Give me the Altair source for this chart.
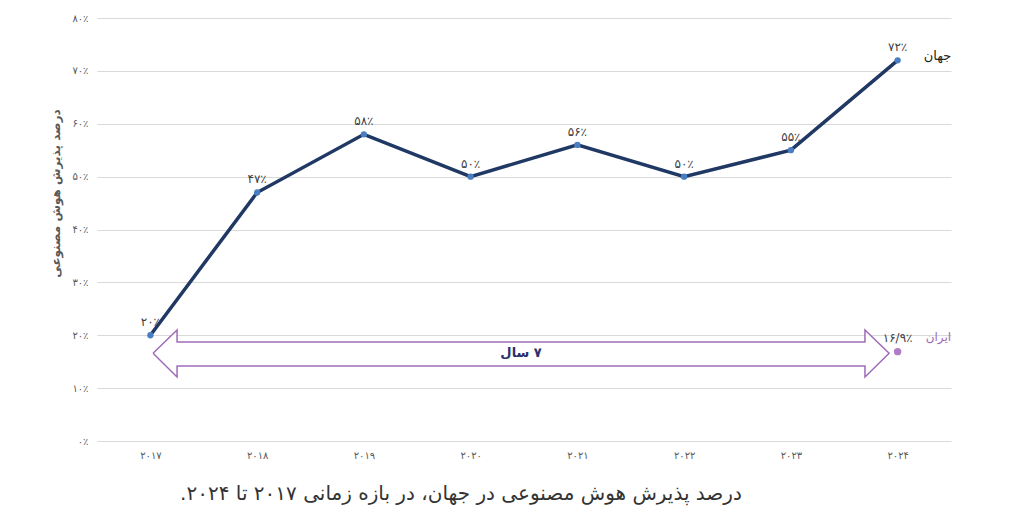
import altair as alt
import pandas as pd

FA = str.maketrans("0123456789", "۰۱۲۳۴۵۶۷۸۹")

def fa(s):
    return str(s).translate(FA)

def rtl(s):
    # force right-to-left embedding so numbers / full stop sit correctly
    return "\u202b" + s + "\u202c"

years = [2017, 2018, 2019, 2020, 2021, 2022, 2023, 2024]
world = [20, 47, 58, 50, 56, 50, 55, 72]
iran_year = 2024
iran_value = 16.9
y_ticks = [0, 10, 20, 30, 40, 50, 60, 70, 80]

FONT = "DejaVu Sans"
GREY = "#595959"
PURPLE = "#9E6CB8"

world_df = pd.DataFrame({
    "year": years,
    "value": world,
    "label": [fa(v) + "٪" for v in world],
})
iran_df = pd.DataFrame({
    "year": [iran_year],
    "value": [iran_value],
    "label": [fa("16/9") + "٪"],
    "name": ["ایران"],
})


def label_expr(vals, suffix=""):
    expr = "''"
    for v in reversed(vals):
        expr = f"datum.value == {v} ? '{fa(v)}{suffix}' : ({expr})"
    return expr


x_scale = alt.Scale(domain=[2016.5, 2024.5], nice=False, zero=False)
y_scale = alt.Scale(domain=[0, 80], nice=False)

x_enc = alt.X("year:Q", scale=x_scale, axis=alt.Axis(
    values=years, labelExpr=label_expr(years), grid=False, ticks=False,
    domain=False, title=None, labelFontSize=10, labelColor=GREY,
    labelPadding=9, labelFont=FONT))
y_enc = alt.Y("value:Q", scale=y_scale, axis=alt.Axis(
    values=y_ticks, labelExpr=label_expr(y_ticks, "٪"), grid=True,
    gridColor="#d9d9d9", ticks=False, domain=False,
    title="درصد پذیرش هوش مصنوعی", titleFontSize=12, titleColor=GREY,
    titleFont=FONT, titleFontWeight="bold", titleAngle=-90,
    titleX=-42, titleY=175, titleAlign="center", titleBaseline="middle",
    labelFontSize=10, labelColor=GREY, labelPadding=9, labelFont=FONT))

# span arrow 2017 -> 2024 ("7 years")
tip_l, base_l, base_r, tip_r = 2017.025, 2017.25, 2023.694, 2023.92
mid, body_t, body_b, head_t, head_b = 16.6, 18.7, 14.2, 21.0, 12.1

arrow_fill = pd.DataFrame({
    "year": [tip_l, base_l, base_l + 0.0001, base_r - 0.0001, base_r, tip_r],
    "value": [mid, head_t, body_t, body_t, head_t, mid],
    "value2": [mid, head_b, body_b, body_b, head_b, mid],
})
arrow_line = pd.DataFrame({
    "year": [tip_l, base_l, base_l, base_r, base_r, tip_r, base_r, base_r,
             base_l, base_l, tip_l],
    "value": [mid, head_t, body_t, body_t, head_t, mid, head_b, body_b,
              body_b, head_b, mid],
})
arrow_line["i"] = range(len(arrow_line))
span_df = pd.DataFrame({"year": [(tip_l + tip_r) / 2], "value": [mid],
                        "label": [rtl(fa(7) + " سال")]})

fill = alt.Chart(arrow_fill).mark_area(color="white", opacity=1).encode(
    x=x_enc, y=y_enc, y2="value2:Q")
outline = alt.Chart(arrow_line).mark_line(color=PURPLE, strokeWidth=1.5).encode(
    x=x_enc, y=y_enc, order="i:Q")
span_text = alt.Chart(span_df).mark_text(
    font=FONT, fontSize=13, fontWeight="bold", color="#2B2F6B").encode(
    x=x_enc, y=y_enc, text="label:N")

line = alt.Chart(world_df).mark_line(color="#203864", strokeWidth=3.5).encode(
    x=x_enc, y=y_enc)
pts = alt.Chart(world_df).mark_circle(color="#4A7EC2", size=40, opacity=1).encode(
    x=x_enc, y=y_enc)
lbls = alt.Chart(world_df).mark_text(
    font=FONT, fontSize=12, color="#404040", dy=-13).encode(
    x=x_enc, y=y_enc, text="label:N")
world_name = alt.Chart(world_df.tail(1)).mark_text(
    font=FONT, fontSize=13, color="#222222", align="left", dx=26, dy=-4).encode(
    x=x_enc, y=y_enc, text=alt.value("جهان"))

iran_pt = alt.Chart(iran_df).mark_circle(color="#B07CC6", size=55, opacity=1).encode(
    x=x_enc, y=y_enc)
iran_lbl = alt.Chart(iran_df).mark_text(
    font=FONT, fontSize=12, color="#404040", dx=0, dy=-14).encode(
    x=x_enc, y=y_enc, text="label:N")
iran_name = alt.Chart(iran_df).mark_text(
    font=FONT, fontSize=12, color=PURPLE, align="left", dx=28, dy=-15).encode(
    x=x_enc, y=y_enc, text="name:N")

chart = alt.layer(
    fill, outline, span_text, line, pts, lbls, world_name,
    iran_pt, iran_lbl, iran_name,
).properties(
    width=854,
    height=423,
    autosize=alt.AutoSizeParams(type="none"),
    padding={"left": 89, "top": 10, "right": 56, "bottom": 72},
    title=alt.TitleParams(
        rtl("درصد پذیرش هوش مصنوعی در جهان، در بازه زمانی ۲۰۱۷ تا ۲۰۲۴."),
        orient="bottom", fontSize=20, font=FONT, fontWeight="normal",
        color="#333333", dx=-63, offset=24),
).configure_view(stroke=None)

chart.save("out.html", embed_options={"renderer": "svg", "actions": False})
